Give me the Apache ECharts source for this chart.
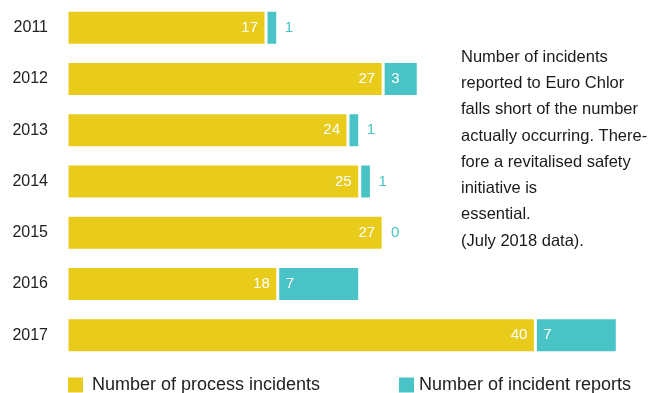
<!DOCTYPE html>
<html>
<head>
<meta charset="utf-8">
<script src="https://cdn.jsdelivr.net/npm/echarts@6/dist/echarts.min.js"></script>
<style>
  html, body { margin: 0; padding: 0; background: #fff; }
  #chart { width: 649px; height: 393px; }
</style>
</head>
<body>
<div id="chart"></div>
<script>
const years = ['2011', '2012', '2013', '2014', '2015', '2016', '2017']
const processIncidents = [17, 27, 24, 25, 27, 18, 40]
const incidentReports = [1, 3, 1, 1, 0, 7, 7]
const note = 'Number of incidents\nreported to Euro Chlor\nfalls short of the number\nactually occurring. There-\nfore a revitalised safety\ninitiative is\nessential.\n(July 2018 data).'

const yellow = '#E9CB1C'
const teal = '#49C3C6'
const font = '"Liberation Sans", Arial, sans-serif'

const chart = echarts.init(document.getElementById('chart'))

// small report values get their label outside the bar, in teal
const reportData = incidentReports.map(v => {
  if (v >= 3) return v
  return {
    value: v,
    label: { position: 'right', distance: 7, color: teal }
  }
})

const legendBase = {
  top: 376,
  padding: 0,
  itemWidth: 15,
  itemHeight: 15,
  icon: 'rect',
  itemStyle: { borderWidth: 0 },
  textStyle: { color: '#222', fontSize: 18, fontFamily: font }
}

const option = {
  animation: false,
  textStyle: { fontFamily: font },
  grid: { left: 67, top: 2, width: 562, height: 359, outerBoundsMode: 'none' },
  xAxis: {
    type: 'value',
    min: 0,
    max: 48,
    show: false
  },
  yAxis: {
    type: 'category',
    data: years,
    inverse: true,
    axisLine: { show: false },
    axisTick: { show: false },
    splitLine: { show: false },
    axisLabel: { color: '#222', fontSize: 16, margin: 19, fontFamily: font }
  },
  legend: [
    Object.assign({}, legendBase, {
      data: ['Number of process incidents'],
      left: 68,
      textStyle: Object.assign({}, legendBase.textStyle, { padding: [0, 0, 0, 4] })
    }),
    Object.assign({}, legendBase, {
      data: ['Number of incident reports'],
      left: 399
    })
  ],
  graphic: [
    {
      type: 'text',
      left: 461,
      top: 44,
      style: {
        text: note,
        fill: '#1a1a1a',
        font: '16.5px ' + font,
        lineHeight: 26.3
      }
    }
  ],
  series: [
    {
      name: 'Number of process incidents',
      type: 'bar',
      stack: 'total',
      barWidth: 35,
      itemStyle: { color: yellow, borderColor: '#fff', borderWidth: 1.5 },
      label: {
        show: true,
        position: 'insideRight',
        distance: 8,
        color: '#fff',
        fontSize: 15,
        fontFamily: font
      },
      data: processIncidents
    },
    {
      name: 'Number of incident reports',
      type: 'bar',
      stack: 'total',
      barWidth: 35,
      itemStyle: { color: teal, borderColor: '#fff', borderWidth: 1.5 },
      label: {
        show: true,
        position: 'insideLeft',
        distance: 8,
        color: '#fff',
        fontSize: 15,
        fontFamily: font
      },
      data: reportData
    }
  ]
}

chart.setOption(option)
</script>
</body>
</html>
